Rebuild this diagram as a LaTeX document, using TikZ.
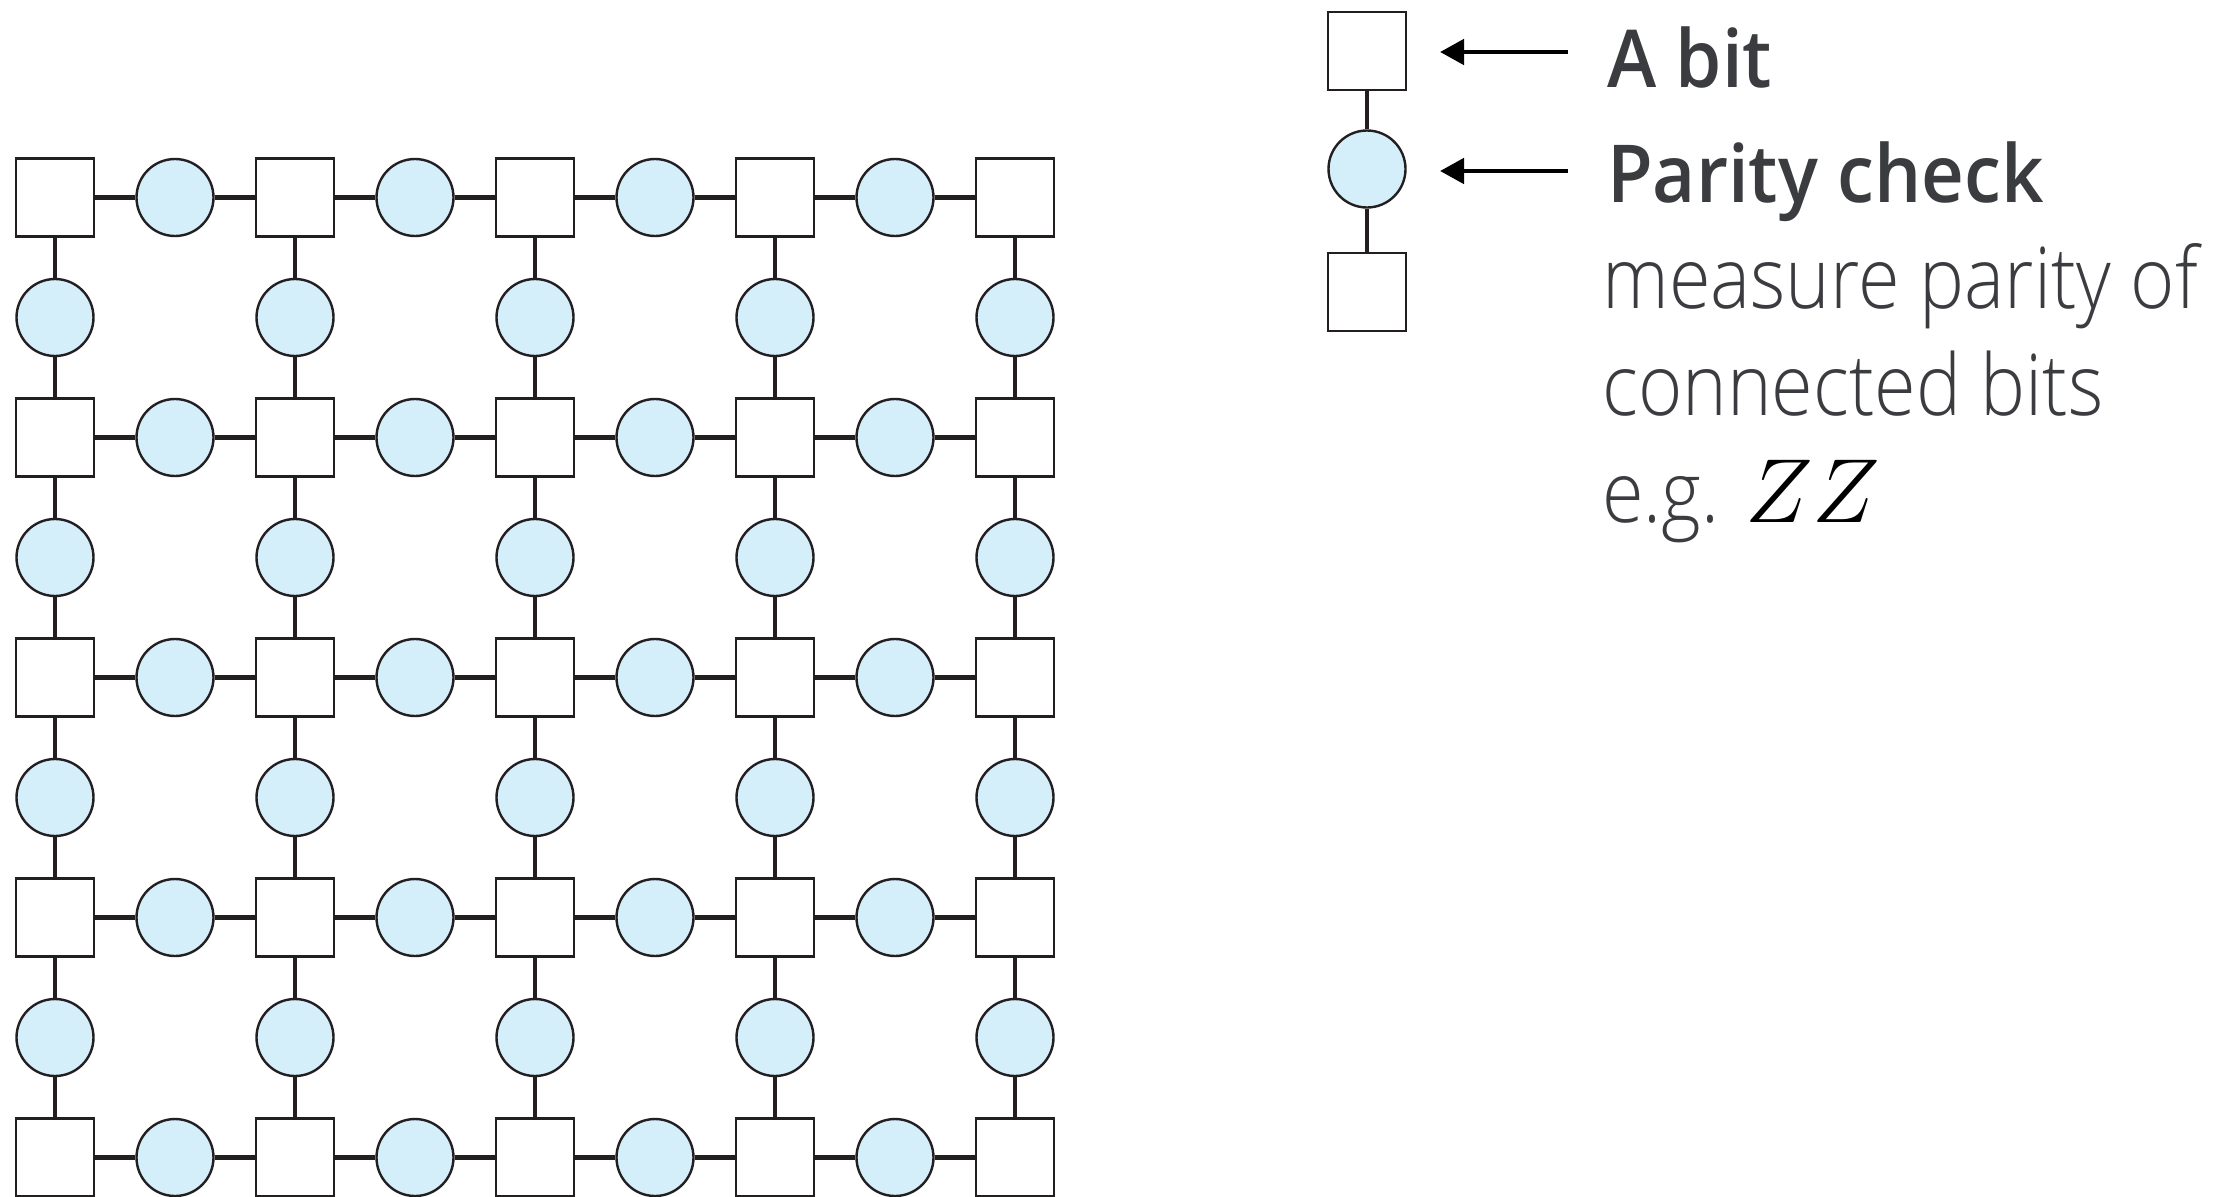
\RequirePackage{fix-cm}
\documentclass[tikz,border=0pt]{standalone}
\usepackage{fontspec}
\usetikzlibrary{arrows.meta}
\setmainfont{Open Sans}
\IfFontExistsTF{Open Sans Light}
  {\newfontfamily\bodyfont{Open Sans Light}[FakeStretch=0.89]}
  {\newfontfamily\bodyfont{Open Sans}[FakeStretch=0.89]}
\IfFontExistsTF{Open Sans SemiBold}
  {\newfontfamily\headfont{Open Sans SemiBold}[FakeStretch=0.93]}
  {\IfFontExistsTF{Open Sans Semibold}
    {\newfontfamily\headfont{Open Sans Semibold}[FakeStretch=0.93]}
    {\newfontfamily\headfont{Open Sans Bold}[FakeStretch=0.93]}}
\definecolor{edge}{HTML}{231F20}
\definecolor{checkfill}{HTML}{D4EEFA}
\definecolor{ink}{HTML}{3B3C40}
\newcommand\headsize{\fontsize{80pt}{96pt}\selectfont}
\newcommand\bodysize{\fontsize{85pt}{100pt}\selectfont}
\begin{document}
\begin{tikzpicture}[x=1pt,y=-1pt,
  bitbox/.style={shape=rectangle,draw=edge,fill=white,line width=2.4pt,
    minimum size=78pt,inner sep=0pt},
  check/.style={shape=circle,draw=edge,fill=checkfill,line width=2.4pt,
    minimum size=77pt,inner sep=0pt},
  link/.style={draw=edge,line width=4.4pt},
  keylink/.style={draw=edge,line width=3.2pt},
  pointer/.style={draw=black,line width=4.8pt,-{Triangle[length=24pt,width=25pt]}},
  label/.style={anchor=base west,inner sep=0pt,text=ink}]
\clip (0,0) rectangle (2228,1197);
\useasboundingbox (0,0) rectangle (2228,1197);

% lattice of bits (squares) with parity checks (circles) between neighbours
\foreach \i in {0,...,4}
  \foreach \j in {0,...,4}
    \node[bitbox] (b-\i-\j) at ({55+240*\i},{197.5+240*\j}) {};
\foreach \i in {0,...,3}
  \foreach \j in {0,...,4}
    \node[check] (h-\i-\j) at ({175+240*\i},{197.5+240*\j}) {};
\foreach \i in {0,...,4}
  \foreach \j in {0,...,3}
    \node[check] (v-\i-\j) at ({55+240*\i},{317.5+240*\j}) {};

% horizontal links
\foreach \i in {0,...,3}
  \foreach \j in {0,...,4}{
    \pgfmathtruncatemacro\ii{\i+1}
    \draw[link] (b-\i-\j) -- (h-\i-\j);
    \draw[link] (h-\i-\j) -- (b-\ii-\j);
  }
% vertical links
\foreach \i in {0,...,4}
  \foreach \j in {0,...,3}{
    \pgfmathtruncatemacro\jj{\j+1}
    \draw[link] (b-\i-\j) -- (v-\i-\j);
    \draw[link] (v-\i-\j) -- (b-\i-\jj);
  }

% key
\node[bitbox] (kb1) at (1367,51) {};
\node[check]  (kc)  at (1367,169) {};
\node[bitbox] (kb2) at (1367,292) {};
\draw[keylink] (kb1) -- (kc);
\draw[keylink] (kc) -- (kb2);

\coordinate (p1s) at (1568,52);
\coordinate (p1e) at (1440,52);
\coordinate (p2s) at (1568,171);
\coordinate (p2e) at (1440,171);
\draw[pointer] (p1s) -- (p1e);
\draw[pointer] (p2s) -- (p2e);

\node[label,font=\headfont\headsize] (t1) at (1607,87) {A bit};
\node[label,font=\headfont\headsize] (t2) at (1607,202) {Parity check};
\node[label,font=\bodyfont\bodysize] (t3) at (1602,308) {measure parity of};
\node[label,font=\bodyfont\bodysize] (t4) at (1602,415) {connected bits};
\node[label,font=\bodyfont\bodysize] (t5) at (1602,522)
  {e.g. {\color{black}\fontsize{91pt}{100pt}\selectfont$ZZ$}};
\end{tikzpicture}
\end{document}
